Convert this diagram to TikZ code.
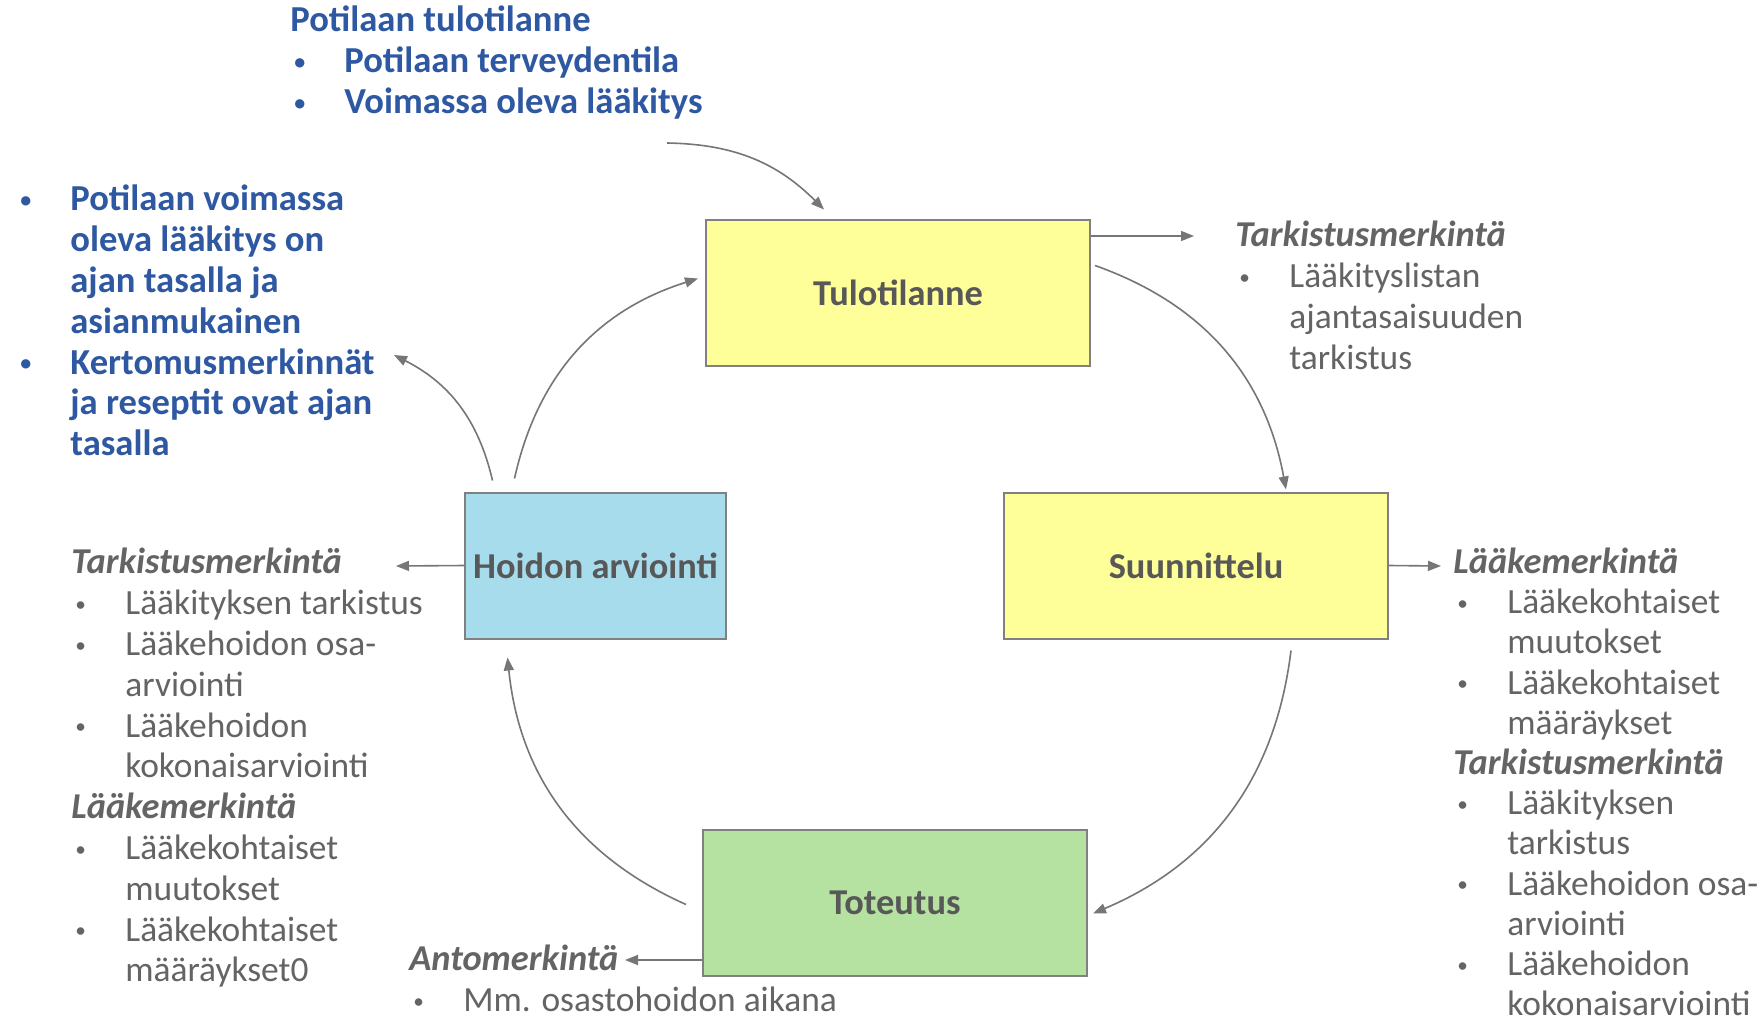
\documentclass[tikz,border=0pt]{standalone}
\usepackage{fontspec}
\setmainfont{Carlito}
\usepackage{xcolor}
\usetikzlibrary{positioning, arrows.meta, calc}

\definecolor{blueT}{RGB}{46,88,162}
\definecolor{grayT}{RGB}{100,100,100}
\definecolor{grayB}{RGB}{88,88,88}
\definecolor{boxLine}{RGB}{128,128,128}
\definecolor{arrGray}{RGB}{118,118,118}
\definecolor{yelFill}{RGB}{255,255,153}
\definecolor{bluFill}{RGB}{166,220,236}
\definecolor{grnFill}{RGB}{181,225,161}

\newcommand{\dotb}{\raisebox{1.6pt}{\scalebox{0.6}{\textbullet}}}
\newcommand{\li}[1]{\strut\hspace*{2pt}\makebox[25pt][l]{\dotb}#1}
\newcommand{\lc}[1]{\strut\hspace*{27pt}#1}
\newcommand{\lcend}[1]{\hspace*{27pt}#1}
\newcommand{\hd}[1]{\strut{\fontsize{18.2}{20.4}\selectfont\bfseries\itshape #1}}

\begin{document}
\begin{tikzpicture}[
  x=0.5pt, y=-0.5pt,
  stage/.style={draw=boxLine, line width=1pt, fill=#1, minimum width=192pt, minimum height=73pt, inner sep=0pt, font=\fontsize{18.2}{20.4}\selectfont\bfseries, text=grayB},
  note/.style={anchor=north west, align=left, inner sep=0pt, font=\fontsize{17.7}{20.4}\selectfont, text=grayT},
  bnote/.style={note, font=\fontsize{18.3}{20.4}\selectfont\bfseries, text=blueT},
  arr/.style={-{Triangle[length=6.5pt,width=5pt]}, draw=arrGray, line width=0.8pt},
]
\fill[white] (0,0) rectangle (1763,1029);
\useasboundingbox (0,0) rectangle (1763,1029);

% ── cycle boxes ──
\node[stage=yelFill] (tulo) at (898,292.5) {Tulotilanne};
\node[stage=yelFill] (suun) at (1196,565.5) {Suunnittelu};
\node[stage=grnFill] (tote) at (895,902.5) {Toteutus};
\node[stage=bluFill, minimum width=130.5pt] (hoid) at (595.5,565.5) {Hoidon arviointi};

% ── blue notes ──
\node[bnote] (tuloTxt) at (290,3) {\strut Potilaan tulotilanne\\
  \li{Potilaan terveydentila}\\
  \li{Voimassa oleva lääkitys}};
\node[bnote] (tavoite) at (16,182) {\li{Potilaan voimassa}\\
  \lc{oleva lääkitys on}\\
  \lc{ajan tasalla ja}\\
  \lc{asianmukainen}\\
  \li{Kertomusmerkinnät}\\
  \lc{ja reseptit ovat ajan}\\
  \lc{tasalla}};

% ── grey notes ──
\node[note] (tuloMerk) at (1235,218) {\hd{Tarkistusmerkintä}\\
  \li{Lääkityslistan}\\
  \lc{ajantasaisuuden}\\
  \lc{tarkistus}};
\node[note, font=\fontsize{17.7}{20.1}\selectfont] (suunMerk) at (1453,545) {\hd{Lääkemerkintä}\\
  \li{Lääkekohtaiset}\\
  \lc{muutokset}\\
  \li{Lääkekohtaiset}\\
  \lc{määräykset}\\
  \hd{Tarkistusmerkintä}\\
  \li{Lääkityksen}\\
  \lc{tarkistus}\\
  \li{Lääkehoidon osa-}\\
  \lc{arviointi}\\
  \li{Lääkehoidon}\\
  \lcend{kokonaisarviointi}};
\node[note] (hoidMerk) at (71,545) {\hd{Tarkistusmerkintä}\\
  \li{Lääkityksen tarkistus}\\
  \li{Lääkehoidon osa-}\\
  \lc{arviointi}\\
  \li{Lääkehoidon}\\
  \lc{kokonaisarviointi}\\
  \hd{Lääkemerkintä}\\
  \li{Lääkekohtaiset}\\
  \lc{muutokset}\\
  \li{Lääkekohtaiset}\\
  \lc{määräykset0}};
\node[note] (toteMerk) at (409,942) {\hd{Antomerkintä}\\
  \li{Mm. osastohoidon aikana}};

% ── free ends ──
\coordinate (tuloIn) at (667,143);
\coordinate (kertEnd) at (394,355);

% ── cycle arrows ──
\draw[arr] (tuloIn) to[bend left=22] ([shift={(-74,-9)}]tulo.north);
\draw[arr] ([shift={(4,-27)}]tulo.east) to[bend left=30] ([shift={(90,-2)}]suun.north);
\draw[arr] ([shift={(95,11)}]suun.south) to[bend left=30] ([shift={(5,11)}]tote.east);
\draw[arr] ([shift={(-16,2)}]tote.west) to[bend left=30] ([shift={(-88,18)}]hoid.south);
\draw[arr] ([shift={(-81,-13)}]hoid.north) to[bend left=30] ([shift={(-7,-14)}]tulo.west);
\draw[arr] ([shift={(-103,-11)}]hoid.north) to[bend right=25] (kertEnd);

% ── side arrows ──
\draw[arr] (tulo.east |- 0,236) -- (1194,236);
\draw[arr] (suun.east) -- (1441,566);
\draw[arr] (hoid.west) -- (396,566);
\draw[arr] (tote.west |- 0,960) -- (625,960);
\end{tikzpicture}
\end{document}
